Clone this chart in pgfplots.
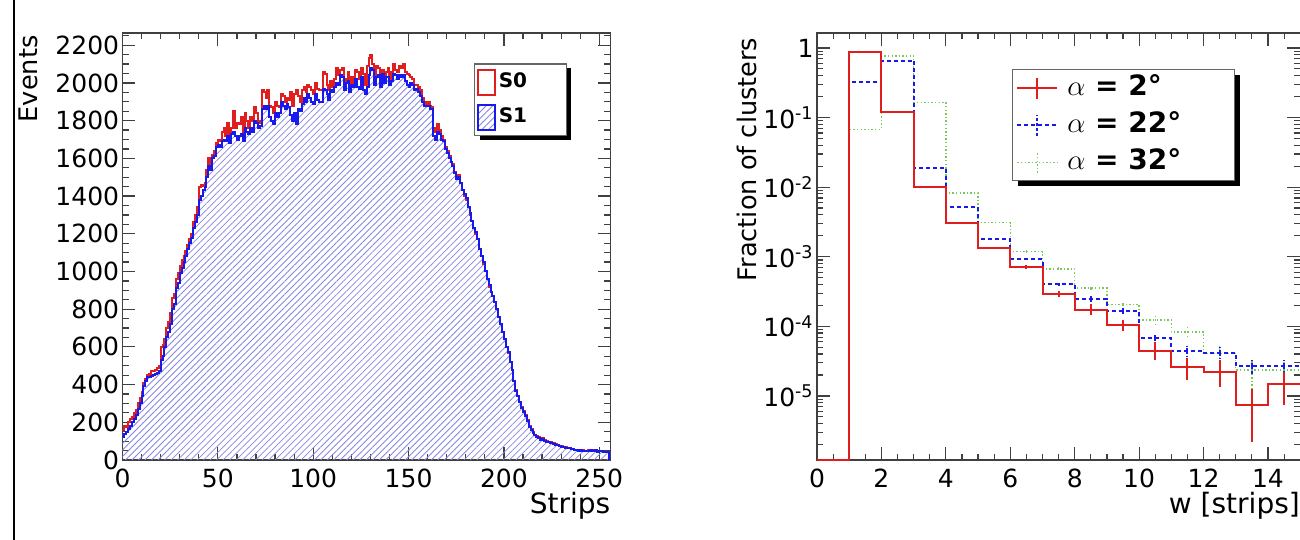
\documentclass[border=0pt]{standalone}
\usepackage{pgfplots}
\pgfplotsset{compat=1.18}
\usepackage{pgfplotstable}
\usepackage{fontspec}
\setmainfont{DejaVu Sans}
\usetikzlibrary{patterns.meta,shadows}

\makeatletter
\tikzset{no preaction/.code={\let\tikz@preactions\pgfutil@empty}}
\makeatother

\definecolor{hred}{RGB}{225,30,30}
\definecolor{hblue}{RGB}{25,25,235}
\definecolor{hatch}{RGB}{135,135,222}
\definecolor{hgreen}{RGB}{120,200,90}

\pgfplotstableread{
x s0 s1
0 160 120
1 180 140
2 175 150
3 200 165
4 215 180
5 230 200
6 250 215
7 265 240
8 300 270
9 330 300
10 360 340
11 410 390
12 430 420
13 450 440
14 455 440
15 470 445
16 470 450
17 480 455
18 490 460
19 500 470
20 600 530
21 610 550
22 640 600
23 700 650
24 730 680
25 780 720
26 860 800
27 880 830
28 960 910
29 990 940
30 1030 990
31 1060 1020
32 1080 1050
33 1110 1080
34 1140 1120
35 1170 1150
36 1200 1180
37 1260 1230
38 1300 1260
39 1340 1300
40 1450 1380
41 1460 1400
42 1455 1430
43 1470 1450
44 1540 1500
45 1600 1560
46 1560 1540
47 1620 1600
48 1640 1610
49 1680 1660
50 1700 1670
51 1690 1660
52 1740 1690
53 1760 1700
54 1720 1690
55 1790 1720
56 1700 1680
57 1760 1730
58 1850 1740
59 1760 1720
60 1790 1700
61 1780 1720
62 1820 1730
63 1730 1690
64 1840 1760
65 1800 1740
66 1760 1730
67 1820 1760
68 1800 1740
69 1870 1800
70 1840 1790
71 1790 1760
72 1800 1770
73 1960 1860
74 1950 1880
75 1920 1860
76 1960 1880
77 1880 1820
78 1870 1800
79 1840 1780
80 1900 1840
81 1880 1820
82 1870 1840
83 1940 1900
84 1930 1880
85 1900 1860
86 1920 1890
87 1910 1870
88 1950 1830
89 1880 1800
90 1940 1840
91 1960 1780
92 1930 1860
93 1900 1850
94 1960 1890
95 1980 1920
96 1950 1900
97 1990 1940
98 1980 1920
99 1960 1900
100 1940 1890
101 2000 1940
102 1970 1910
103 1960 1900
104 1960 1900
105 2060 1970
106 2050 1960
107 1990 1940
108 1960 1910
109 2010 1960
110 1980 1950
111 2020 1980
112 2080 2000
113 2040 1990
114 2070 2040
115 2080 2030
116 2000 1960
117 2020 2000
118 2060 2010
119 2000 1950
120 2030 1990
121 1990 1980
122 2070 2020
123 2060 1980
124 2020 1970
125 2080 2030
126 2050 1960
127 1990 1940
128 2090 1980
129 2130 2040
130 2150 2080
131 2100 2070
132 2040 1990
133 2090 2030
134 2080 2040
135 2040 1980
136 2070 2050
137 2020 2000
138 2060 2030
139 2080 2030
140 2020 1990
141 2060 2010
142 2100 2050
143 2070 2040
144 2060 2020
145 2090 2040
146 2080 2030
147 2100 2040
148 2060 2010
149 2050 1990
150 2040 1980
151 2030 2000
152 2020 1990
153 1990 1960
154 1990 1970
155 1980 1950
156 1960 1930
157 1920 1900
158 1900 1880
159 1890 1880
160 1900 1880
161 1880 1860
162 1870 1860
163 1760 1720
164 1740 1700
165 1780 1740
166 1750 1730
167 1720 1700
168 1700 1690
169 1660 1650
170 1640 1630
171 1610 1600
172 1580 1580
173 1570 1560
174 1530 1520
175 1500 1490
176 1510 1500
177 1470 1470
178 1430 1430
179 1400 1410
180 1380 1390
181 1340 1340
182 1300 1310
183 1270 1270
184 1230 1230
185 1200 1210
186 1170 1170
187 1120 1120
188 1080 1080
189 1040 1050
190 1000 1000
191 960 960
192 920 930
193 890 890
194 870 870
195 840 840
196 800 800
197 760 760
198 720 720
199 680 680
200 640 640
201 600 600
202 570 575
203 520 520
204 480 475
205 420 420
206 370 365
207 340 340
208 310 305
209 280 275
210 260 255
211 240 235
212 210 205
213 180 175
214 165 160
215 150 145
216 135 130
217 125 120
218 120 118
219 110 108
220 115 110
221 105 100
222 100 95
223 98 95
224 95 90
225 90 88
226 88 85
227 85 80
228 80 78
229 76 74
230 72 70
231 70 68
232 68 66
233 64 64
234 62 62
235 60 58
236 58 60
237 55 55
238 55 52
239 52 50
240 50 52
241 52 50
242 50 50
243 48 50
244 55 48
245 50 52
246 48 50
247 52 48
248 50 55
249 45 45
250 48 46
251 50 48
252 45 44
253 44 44
254 42 42
255 0 0
256 0 0
}\datatable

\pgfplotsset{
  rootaxis/.style={
    scale only axis,
    axis line style={black!75, line width=0.7pt},
    every tick/.style={black!75, line width=0.6pt},
    tick align=inside,
    major tick length=6.5pt,
    minor tick length=3.2pt,
    xtick pos=both, ytick pos=both,
    tick label style={font=\fontsize{12.5}{14}\selectfont},
    /pgf/number format/assume math mode=true,
    /pgf/number format/1000 sep={},
    every x tick label/.append style={inner ysep=4.5pt},
    every y tick label/.append style={inner xsep=1.5pt},
    clip=true,
  },
}

\begin{document}
\begin{tikzpicture}
\useasboundingbox (0,0) rectangle (650pt,270pt);
\fill[white] (0,0) rectangle (650pt,270pt);
\draw[line width=1.2pt] (7pt,0) -- (7pt,270pt);

% ---------------- left panel ----------------
\begin{axis}[rootaxis,
  at={(61.25pt,40pt)}, anchor=south west,
  width=244.1pt, height=213.5pt,
  xmin=0, xmax=256, ymin=0, ymax=2265,
  xtick={0,50,...,250}, minor xtick={0,10,...,250},
  ytick={0,200,...,2200}, minor ytick={0,50,...,2250},
  xlabel={Strips}, ylabel={Events},
  xlabel style={at={(axis description cs:1,-0.075)}, anchor=north east, inner sep=0pt, font=\fontsize{14}{16}\selectfont},
  ylabel style={at={(axis description cs:-0.192,0.995)}, anchor=east, inner sep=0pt, font=\fontsize{12.8}{15}\selectfont},
  legend style={at={(axis description cs:0.72,0.929)}, anchor=north west,
    draw=black!60, line width=0.6pt, fill=white,
    font=\bfseries\fontsize{10}{12}\selectfont,
    inner xsep=1.3pt, inner ysep=2.4pt, row sep=4pt, column sep=0pt,
    cells={anchor=west},
    nodes={text height=7.5pt, text depth=2pt, inner ysep=2pt, inner xsep=1.5pt},
    drop shadow={shadow xshift=2.5pt, shadow yshift=-2pt, fill=black, opacity=1}},
]
\addplot[const plot mark left, draw=none,
  pattern={Lines[angle=45,distance=2.3pt,line width=0.4pt]}, pattern color=hatch, forget plot]
  table[x=x,y=s1]{\datatable} \closedcycle;
\addplot[const plot mark left, hred, line width=1pt, forget plot] table[x=x,y=s0]{\datatable};
\addplot[const plot mark left, hblue, line width=1pt, forget plot] table[x=x,y=s1]{\datatable};
\addlegendimage{legend image code/.code={\draw[no preaction,hred,line width=0.8pt,fill=none] (0pt,-6.25pt) rectangle (8.5pt,6.25pt);}}
\addlegendentry{\makebox[31pt][l]{S0}}
\addlegendimage{legend image code/.code={\draw[no preaction,hblue,line width=0.8pt,pattern={Lines[angle=45,distance=2.3pt,line width=0.4pt]},pattern color=hatch] (0pt,-6.25pt) rectangle (8.5pt,6.25pt);}}
\addlegendentry{\makebox[31pt][l]{S1}}
\end{axis}

% ---------------- right panel ----------------
\begin{axis}[rootaxis,
  at={(408.5pt,40pt)}, anchor=south west,
  width=241.6pt, height=213.5pt,
  ymode=log,
  xmin=0, xmax=15, ymin=1.2e-6, ymax=1.64,
  xtick={0,2,...,14}, minor xtick={0,0.5,...,15},
  ytick={1e-5,1e-4,1e-3,1e-2,1e-1,1},
  yticklabels={10\textsuperscript{-5},10\textsuperscript{-4},10\textsuperscript{-3},10\textsuperscript{-2},10\textsuperscript{-1},1},
  minor ytick={2e-6,3e-6,4e-6,5e-6,6e-6,7e-6,8e-6,9e-6,
    2e-5,3e-5,4e-5,5e-5,6e-5,7e-5,8e-5,9e-5,
    2e-4,3e-4,4e-4,5e-4,6e-4,7e-4,8e-4,9e-4,
    2e-3,3e-3,4e-3,5e-3,6e-3,7e-3,8e-3,9e-3,
    2e-2,3e-2,4e-2,5e-2,6e-2,7e-2,8e-2,9e-2,
    2e-1,3e-1,4e-1,5e-1,6e-1,7e-1,8e-1,9e-1},
  xlabel={w [strips]}, ylabel={Fraction of clusters},
  xlabel style={at={(axis description cs:1,-0.075)}, anchor=north east, inner sep=0pt, font=\fontsize{14}{16}\selectfont},
  ylabel style={at={(axis description cs:-0.145,0.99)}, anchor=east, inner sep=0pt, font=\fontsize{12.8}{15}\selectfont},
  legend style={at={(axis description cs:0.403,0.915)}, anchor=north west,
    draw=black!60, line width=0.6pt, fill=white,
    font=\bfseries\fontsize{14}{16}\selectfont,
    inner xsep=2pt, inner ysep=0.5pt, row sep=1pt, column sep=3pt,
    cells={anchor=west},
    nodes={text height=10.5pt, text depth=3pt, inner ysep=2pt, inner xsep=1.5pt},
    drop shadow={shadow xshift=3pt, shadow yshift=-2.5pt, fill=black, opacity=1}},
]
% alpha = 32 deg (green, dotted)
\addplot[const plot mark left, hgreen, line width=0.7pt, dash pattern=on 0.7pt off 1.1pt, forget plot] coordinates {
(0,1.2e-6) (1,0.068) (2,0.77) (3,0.164) (4,0.0082) (5,0.0031) (6,0.00118) (7,0.00067)
(8,0.000354) (9,0.000207) (10,0.000123) (11,8.3e-5) (12,4.1e-5) (13,2.36e-5) (14,2.36e-5) (15,2.36e-5)};
\addplot[draw=none, mark=none, forget plot,
  error bars/.cd, y dir=both, y explicit, error mark=none,
  error bar style={draw=hgreen, line width=0.7pt, dash pattern=on 0.7pt off 1.1pt}] coordinates {
(6.5,0.00118) += (0,5e-5) -= (0,5e-5)
(7.5,0.00067) += (0,4e-5) -= (0,4e-5)
(8.5,0.000354) += (0,3e-5) -= (0,3e-5)
(9.5,0.000207) += (0,2.5e-5) -= (0,2.5e-5)
(10.5,0.000123) += (0,2e-5) -= (0,2e-5)
(11.5,8.3e-5) += (0,1.5e-5) -= (0,1.5e-5)
(12.5,4.1e-5) += (0,1.2e-5) -= (0,1e-5)
(13.5,2.36e-5) += (0,8e-6) -= (0,1.1e-5)
(14.5,2.36e-5) += (0,7e-6) -= (0,7e-6)};
% alpha = 22 deg (blue, dashed)
\addplot[const plot mark left, hblue, line width=1pt, dash pattern=on 2pt off 1.5pt, forget plot] coordinates {
(0,1.2e-6) (1,0.32) (2,0.66) (3,0.019) (4,0.0052) (5,0.0018) (6,0.00093) (7,0.0004)
(8,0.00025) (9,0.000164) (10,6.7e-5) (11,4.4e-5) (12,4.2e-5) (13,2.65e-5) (14,2.65e-5) (15,2.65e-5)};
\addplot[draw=none, mark=none, forget plot,
  error bars/.cd, y dir=both, y explicit, error mark=none,
  error bar style={draw=hblue, line width=1pt, dash pattern=on 1.5pt off 1pt}] coordinates {
(7.5,0.0004) += (0,2.5e-5) -= (0,2.5e-5)
(8.5,0.00025) += (0,2.5e-5) -= (0,2.5e-5)
(9.5,0.000164) += (0,2e-5) -= (0,2e-5)
(10.5,6.7e-5) += (0,1.2e-5) -= (0,1e-5)
(11.5,4.4e-5) += (0,8e-6) -= (0,8e-6)
(12.5,4.2e-5) += (0,8e-6) -= (0,8e-6)
(13.5,2.65e-5) += (0,6.5e-6) -= (0,6.5e-6)
(14.5,2.65e-5) += (0,6.5e-6) -= (0,6.5e-6)};
% alpha = 2 deg (red, solid)
\addplot[const plot mark left, hred, line width=1pt, forget plot] coordinates {
(0,1.2e-6) (1,0.88) (2,0.119) (3,0.0099) (4,0.0031) (5,0.00134) (6,0.00071) (7,0.000295)
(8,0.000174) (9,0.000104) (10,4.4e-5) (11,2.6e-5) (12,2.2e-5) (13,7.5e-6) (14,1.49e-5) (15,1.49e-5)};
\addplot[draw=none, mark=none, forget plot,
  error bars/.cd, y dir=both, y explicit, error mark=none,
  error bar style={draw=hred, solid, line width=1pt}] coordinates {
(5.5,0.00134) += (0,6e-5) -= (0,6e-5)
(6.5,0.00071) += (0,4e-5) -= (0,4e-5)
(7.5,0.000295) += (0,2.9e-5) -= (0,3.5e-5)
(8.5,0.000174) += (0,3.2e-5) -= (0,2.7e-5)
(9.5,0.000104) += (0,1.9e-5) -= (0,1.9e-5)
(10.5,4.4e-5) += (0,1.47e-5) -= (0,1.16e-5)
(11.5,2.6e-5) += (0,0.92e-5) -= (0,0.93e-5)
(12.5,2.2e-5) += (0,1.12e-5) -= (0,0.87e-5)
(13.5,7.5e-6) += (0,5.1e-6) -= (0,5.3e-6)
(14.5,1.49e-5) += (0,0.73e-5) -= (0,0.74e-5)};
\addlegendimage{legend image code/.code={\draw[no preaction,hred,line width=1pt] (0pt,0pt) -- (20pt,0pt); \draw[no preaction,hred,line width=1pt] (10pt,-5.25pt) -- (10pt,5.25pt);}}
\addlegendentry{\makebox[80pt][l]{$\alpha$ = 2°}}
\addlegendimage{legend image code/.code={\draw[no preaction,hblue,line width=1pt,dash pattern=on 2pt off 1.5pt] (0pt,0pt) -- (20pt,0pt); \draw[no preaction,hblue,line width=1pt,dash pattern=on 1.5pt off 1pt] (10pt,-5.25pt) -- (10pt,5.25pt);}}
\addlegendentry{\makebox[80pt][l]{$\alpha$ = 22°}}
\addlegendimage{legend image code/.code={\draw[no preaction,hgreen,line width=0.7pt,dash pattern=on 0.7pt off 1.1pt] (0pt,0pt) -- (20pt,0pt); \draw[no preaction,hgreen,line width=0.7pt,dash pattern=on 0.7pt off 1.1pt] (10pt,-5.25pt) -- (10pt,5.25pt);}}
\addlegendentry{\makebox[80pt][l]{$\alpha$ = 32°}}
\end{axis}
\end{tikzpicture}
\end{document}
